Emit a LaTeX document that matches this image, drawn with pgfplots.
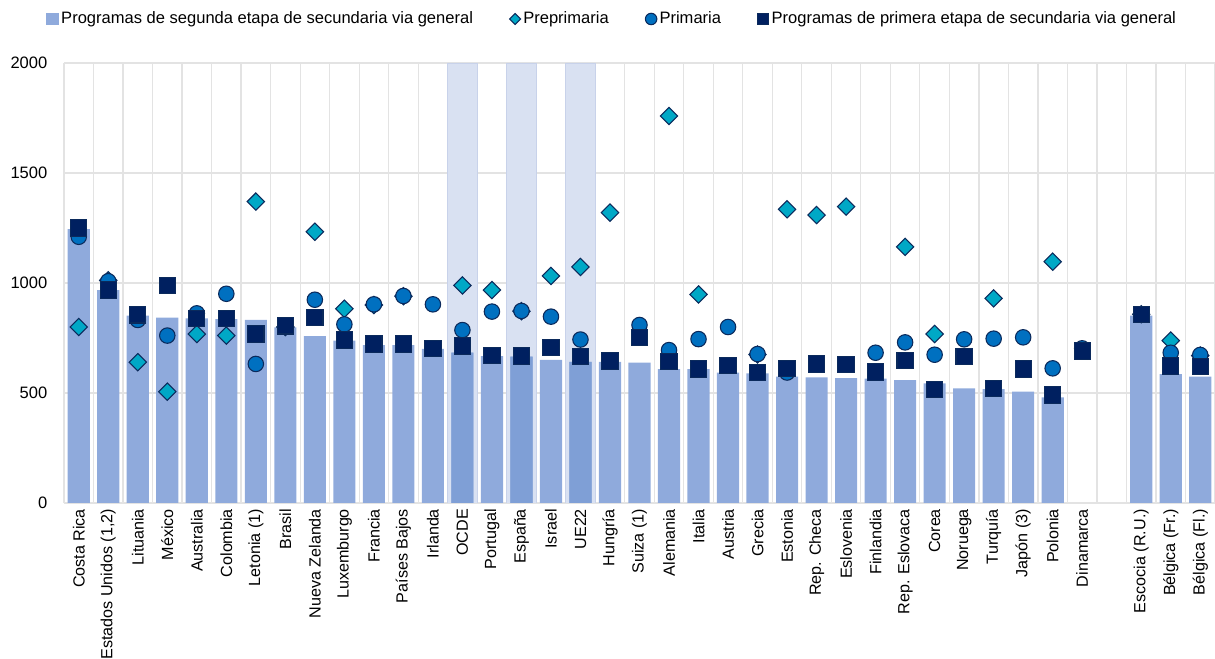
\documentclass[border=0pt]{standalone}
\usepackage{fontspec}
\setmainfont{Liberation Sans}
\usepackage{pgfplots}
\usepackage{pgfplotstable}
\pgfplotsset{compat=1.18}

\definecolor{barcol}{HTML}{8FAADC}
\definecolor{barhi}{HTML}{7F9FD6}
\definecolor{bandcol}{HTML}{D9E1F2}
\definecolor{bandedge}{HTML}{C8D2EA}
\definecolor{precol}{HTML}{00A8C6}
\definecolor{pricol}{HTML}{0070C0}
\definecolor{seccol}{HTML}{002060}
\definecolor{edgecol}{HTML}{0B2A5C}
\definecolor{gridcol}{HTML}{E3E3E3}

\newcommand\chartfont{\fontsize{12.4}{14}\selectfont}
\newcommand\labelfont{\fontsize{12.1}{14}\selectfont}

\pgfplotsset{
  barlegend/.style={legend image code/.code={\fill[barcol] (0pt,-4.6pt) rectangle (9.2pt,4.6pt);}},
  smalllegend/.style={legend image code/.code={\draw[##1, mark size=#1] plot coordinates {(4pt,0pt)};}},
}

% x bar pre pri first
\pgfplotstableread{
x  bar   pre   pri   first
0  1245  800   1210  1250
1  968   1012  1008  968
2  852   640   832   855
3  843   506   761   988
4  839   768   862   839
5  836   761   951   838
6  832   1370  632   768
7  798   800   800   805
8  759   1233  924   843
9  738   883   812   741
10 718   900   903   723
11 718   940   941   723
12 700   nan   903   703
13 683   989   786   714
14 668   968   870   670
15 665   872   873   668
16 650   1032  847   706
17 642   1073  743   665
18 642   1320  nan   645
19 638   nan   809   753
20 609   1759  695   642
21 608   948   745   609
22 593   nan   800   626
23 589   675   677   593
24 574   1335  593   611
25 571   1309  632   632
26 568   1347  629   629
27 565   nan   683   595
28 559   1164  730   647
29 544   768   674   517
30 521   nan   744   665
31 518   930   747   521
32 506   nan   753   609
33 480   1097  612   491
34 nan   nan   703   691
36 852   858   858   858
37 586   738   683   623
38 574   670   673   620
}\datatable

\begin{document}
\begin{tikzpicture}
\useasboundingbox (0,0) rectangle (911.25pt,494.25pt);
\begin{axis}[
  at={(48pt,117pt)}, anchor=south west,
  scale only axis, width=863.25pt, height=330pt,
  xmin=-0.5, xmax=38.5, ymin=0, ymax=2000,
  ytick={0,500,1000,1500,2000},
  xtick={0,...,34,36,37,38},
  xticklabels={Costa Rica,{Estados Unidos (1,2)},Lituania,México,Australia,Colombia,Letonia (1),Brasil,Nueva Zelanda,Luxemburgo,Francia,Países Bajos,Irlanda,OCDE,Portugal,España,Israel,UE22,Hungría,Suiza (1),Alemania,Italia,Austria,Grecia,Estonia,Rep. Checa,Eslovenia,Finlandia,Rep. Eslovaca,Corea,Noruega,Turquía,Japón (3),Polonia,Dinamarca,{Escocia (R.U.)},{Bélgica (Fr.)},{Bélgica (Fl.)}},
  minor xtick={-0.5,0.5,...,38.5},
  major tick length=0pt, minor tick length=0pt,
  ymajorgrids, xminorgrids,
  grid style={gridcol, line width=0.9pt},
  axis line style={draw=none},
  xticklabel style={rotate=90, anchor=east, font=\labelfont, xshift=-1pt},
  yticklabel style={font=\chartfont, xshift=-9pt},
  /pgf/number format/assume math mode=true,
  /pgf/number format/set thousands separator={},
  legend columns=-1,
  legend style={at={(-0.0156,1.1)}, anchor=west, draw=none, fill=none,
    inner sep=0pt, font=\chartfont,
    /tikz/every even column/.append style={column sep=25.5pt}},
]
% highlighted bands
\addplot[ybar, bar width=1, bar shift=0pt, fill=bandcol, draw=bandedge, forget plot]
  coordinates {(13,2000) (15,2000) (17,2000)};
% upper secondary bars
\addplot[ybar, bar width=0.75, bar shift=0pt, fill=barcol, draw=none, barlegend]
  table[x=x, y=bar] {\datatable};
\addlegendentry{Programas de segunda etapa de secundaria via general}
\addplot[ybar, bar width=0.75, bar shift=0pt, fill=barhi, draw=none, forget plot]
  coordinates {(13,683) (15,665) (17,642)};
% markers
\addplot[only marks, mark=square*, mark size=4.6pt,
  mark options={rotate=45, fill=precol, draw=edgecol, line width=0.8pt},
  smalllegend=2.9pt]
  table[x=x, y=pre] {\datatable};
\addlegendentry{Preprimaria}
\addplot[only marks, mark=*, mark size=5.8pt,
  mark options={fill=pricol, draw=edgecol, line width=0.8pt},
  smalllegend=4.3pt]
  table[x=x, y=pri] {\datatable};
\addlegendentry{Primaria}
\addplot[only marks, mark=square*, mark size=6.1pt,
  mark options={fill=seccol, draw=edgecol, line width=0.8pt},
  smalllegend=4.2pt]
  table[x=x, y=first] {\datatable};
\addlegendentry{Programas de primera etapa de secundaria via general}
\end{axis}
\end{tikzpicture}
\end{document}
